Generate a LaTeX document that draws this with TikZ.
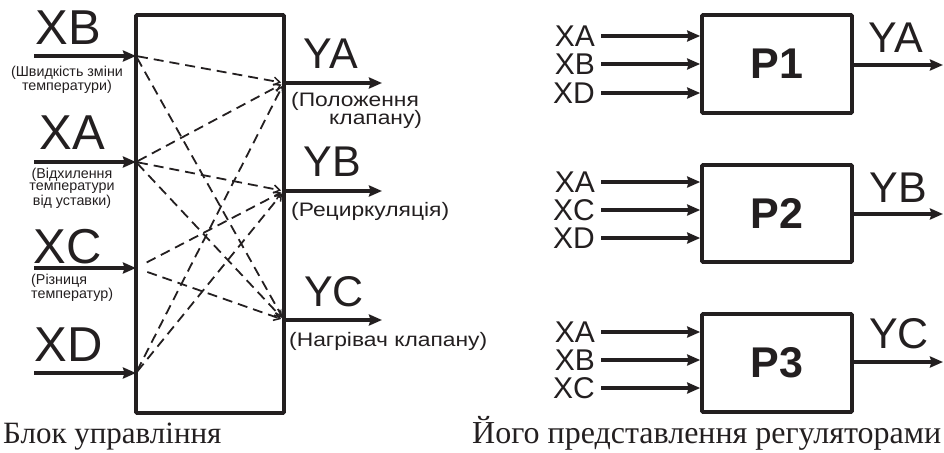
\documentclass[tikz,border=0pt]{standalone}
\usepackage{fontspec}
\setmainfont{Liberation Sans}
\newfontfamily\capfont{Liberation Serif}
\newfontfamily\widesans[FakeStretch=1.17]{Liberation Sans}
\usetikzlibrary{arrows.meta}
\definecolor{ink}{HTML}{231F20}
\tikzset{
  blk/.style={draw=ink, line width=3.6pt, rounded corners=1pt, inner sep=0pt},
  arr/.style={draw=ink, line width=3.3pt, -{Stealth[length=13pt,width=11pt,inset=1.5pt]}},
  dsh/.style={draw=ink, line width=1.8pt, dash pattern=on 10pt off 6pt, -{Straight Barb[length=6pt,width=8pt,line width=1.5pt]}, shorten >=3pt, shorten <=2pt},
  bigl/.style={text=ink, inner sep=0pt, font=\fontsize{49}{49}\selectfont},
  ylab/.style={text=ink, inner sep=0pt, font=\fontsize{43}{43}\selectfont},
  smll/.style={text=ink, inner sep=0pt, align=center, font=\fontsize{14.3}{12.5}\selectfont},
  outl/.style={text=ink, inner sep=0pt, font=\widesans\fontsize{19.5}{19.5}\selectfont},
  inl/.style={text=ink, inner sep=0pt, anchor=east, font=\fontsize{30}{30}\selectfont},
  pl/.style={text=ink, inner sep=0pt, font=\fontsize{43}{43}\selectfont\bfseries},
  capt/.style={text=ink, inner sep=0pt, anchor=base west, font=\capfont\fontsize{31}{31}\selectfont}
}
\begin{document}
\begin{tikzpicture}[x=1pt,y=-1pt]
\useasboundingbox (0,0) rectangle (944,452);
% main block
\node[blk, minimum width=148pt, minimum height=398pt] (B) at (210,214) {};
\coordinate (iB) at (136,56);
\coordinate (iA) at (136,162);
\coordinate (iC) at (136,268);
\coordinate (iD) at (136,373);
\coordinate (sB) at (34,56);
\coordinate (sA) at (34,162);
\coordinate (sC) at (34,268);
\coordinate (sD) at (34,373);
\coordinate (oA) at (284,83);
\coordinate (oB) at (284,191);
\coordinate (oC) at (284,320);
\coordinate (eA) at (382,83);
\coordinate (eB) at (382,191);
\coordinate (eC) at (382,320);
\draw[arr] (sB) -- (iB);
\draw[arr] (sA) -- (iA);
\draw[arr] (sC) -- (iC);
\draw[arr] (sD) -- (iD);
\draw[arr] (oA) -- (eA);
\draw[arr] (oB) -- (eB);
\draw[arr] (oC) -- (eC);
% dashed connections
\draw[dsh] (iB) -- (oA);
\draw[dsh] (iB) -- (oC);
\draw[dsh] (iA) -- (oA);
\draw[dsh] (iA) -- (oB);
\draw[dsh] (iA) -- (oC);
\draw[dsh, shorten <=12pt] (iC) -- (oB);
\draw[dsh, shorten <=12pt] (iC) -- (oC);
\draw[dsh] (iD) -- (oA);
\draw[dsh] (iD) -- (oB);
% left labels
\node[bigl] (lXB) at (68,28) {XB};
\node[bigl] (lXA) at (72,133) {XA};
\node[bigl] (lXC) at (68,247) {XC};
\node[bigl] (lXD) at (69,345) {XD};
\node[smll] (dXB) at (67,80) {(Швидкість зміни\\температури)};
\node[smll] (dXA) at (72,188) {(Відхилення\\температури\\від уставки)};
\node[smll, align=left, anchor=west] (dXC) at (31,288) {(Різниця\\ температур)};
% right labels of block
\node[ylab] (lYA) at (331,54) {YA};
\node[ylab] (lYB) at (332,162) {YB};
\node[ylab] (lYC) at (334,292) {YC};
\node[outl, anchor=west] (dYA1) at (291,101) {(Положення};
\node[outl, anchor=west] (dYA2) at (329,119) {клапану)};
\node[outl, anchor=west] (dYB) at (291,211) {(Рециркуляція)};
\node[outl, anchor=west] (dYC) at (289,341) {(Нагрівач клапану)};
% regulators
\node[blk, minimum width=150pt, minimum height=98pt] (P1) at (777,64) {};
\node[blk, minimum width=150pt, minimum height=97pt] (P2) at (777,213.5) {};
\node[blk, minimum width=150pt, minimum height=98pt] (P3) at (777,363) {};
\node[pl] at (P1) {P1};
\node[pl] at (P2) {P2};
\node[pl] at (P3) {P3};
% P1 inputs
\coordinate (p1a) at (601,36);  \coordinate (p1ai) at (P1.west |- p1a);
\coordinate (p1b) at (601,64);  \coordinate (p1bi) at (P1.west |- p1b);
\coordinate (p1c) at (601,93);  \coordinate (p1ci) at (P1.west |- p1c);
\draw[arr] (p1a) -- (p1ai);
\draw[arr] (p1b) -- (p1bi);
\draw[arr] (p1c) -- (p1ci);
\node[inl] (r1a) at (595,36) {XA};
\node[inl] (r1b) at (595,64) {XB};
\node[inl] (r1c) at (595,93) {XD};
% P2 inputs
\coordinate (p2a) at (601,182);  \coordinate (p2ai) at (P2.west |- p2a);
\coordinate (p2b) at (601,210);  \coordinate (p2bi) at (P2.west |- p2b);
\coordinate (p2c) at (601,238);  \coordinate (p2ci) at (P2.west |- p2c);
\draw[arr] (p2a) -- (p2ai);
\draw[arr] (p2b) -- (p2bi);
\draw[arr] (p2c) -- (p2ci);
\node[inl] (r2a) at (595,182) {XA};
\node[inl] (r2b) at (595,210) {XC};
\node[inl] (r2c) at (595,238) {XD};
% P3 inputs
\coordinate (p3a) at (601,332);  \coordinate (p3ai) at (P3.west |- p3a);
\coordinate (p3b) at (601,360);  \coordinate (p3bi) at (P3.west |- p3b);
\coordinate (p3c) at (601,388);  \coordinate (p3ci) at (P3.west |- p3c);
\draw[arr] (p3a) -- (p3ai);
\draw[arr] (p3b) -- (p3bi);
\draw[arr] (p3c) -- (p3ci);
\node[inl] (r3a) at (595,332) {XA};
\node[inl] (r3b) at (595,360) {XB};
\node[inl] (r3c) at (595,388) {XC};
% outputs of regulators
\coordinate (q1) at (P1.east |- 0,65);  \coordinate (q1e) at (943,65);
\coordinate (q2) at (P2.east |- 0,214); \coordinate (q2e) at (943,214);
\coordinate (q3) at (P3.east |- 0,362); \coordinate (q3e) at (943,362);
\draw[arr] (q1) -- (q1e);
\draw[arr] (q2) -- (q2e);
\draw[arr] (q3) -- (q3e);
\node[ylab] (rYA) at (896,38) {YA};
\node[ylab] (rYB) at (898,188) {YB};
\node[ylab] (rYC) at (899,334) {YC};
% captions
\node[capt] (c1) at (3,443) {Блок управління};
\node[capt, font=\capfont\fontsize{32}{32}\selectfont] (c2) at (472,443) {Його представлення регуляторами};
\end{tikzpicture}
\end{document}
